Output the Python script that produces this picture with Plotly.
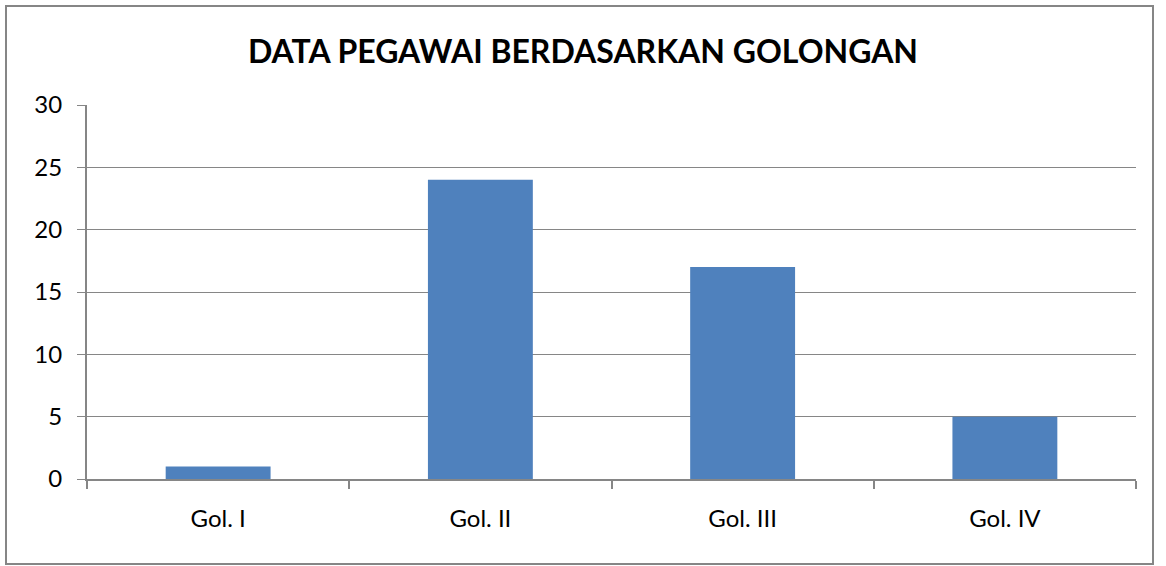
import plotly.graph_objects as go

categories = ["Gol. I", "Gol. II", "Gol. III", "Gol. IV"]
values = [1, 24, 17, 5]
title_text = "DATA PEGAWAI BERDASARKAN GOLONGAN"

W, H = 1166, 566
ML, MR, MT, MB = 87, 30, 105, 87
pw, ph = W - ML - MR, H - MT - MB

fig = go.Figure(go.Bar(x=categories, y=values, marker=dict(color="#4F81BD", line=dict(width=0)), width=0.4))

grey = "#868686"
fig.update_layout(
    width=W, height=H,
    margin=dict(l=ML, r=MR, t=MT, b=MB),
    paper_bgcolor="white", plot_bgcolor="white",
    font=dict(family="Lato, 'Open Sans', sans-serif", color="black", size=24),
    title=dict(text="<b>" + title_text + "</b>", x=0.5, xanchor="center", y=1 - 52 / H, yanchor="middle",
               font=dict(size=32, family="Lato, sans-serif", color="black")),
    showlegend=False,
    bargap=0.6,
)
fig.update_xaxes(showline=True, linecolor=grey, linewidth=2, ticks="outside", tickson="boundaries",
                 ticklen=8, tickcolor=grey, tickwidth=2, showgrid=False, tickfont=dict(size=24),
                 ticklabelstandoff=17)
fig.update_yaxes(range=[0, 30], dtick=5, showline=True, linecolor=grey, linewidth=2, ticks="outside",
                 ticklen=8, tickcolor=grey, tickwidth=1, showgrid=True, gridcolor=grey, gridwidth=1,
                 zeroline=False, tickfont=dict(size=24), ticklabelstandoff=10)

# outer chart border
x0 = (6 - ML) / pw
x1 = (1153 - ML) / pw
y0 = (H - MB - 564) / ph
y1 = (H - MB - 6) / ph
fig.add_shape(type="rect", xref="paper", yref="paper", x0=x0, x1=x1, y0=y0, y1=y1,
              line=dict(color=grey, width=2), layer="below")

fig.write_html("out.html", config={"displayModeBar": False},
               post_script="document.body.style.margin='0';document.body.style.padding='0';")
